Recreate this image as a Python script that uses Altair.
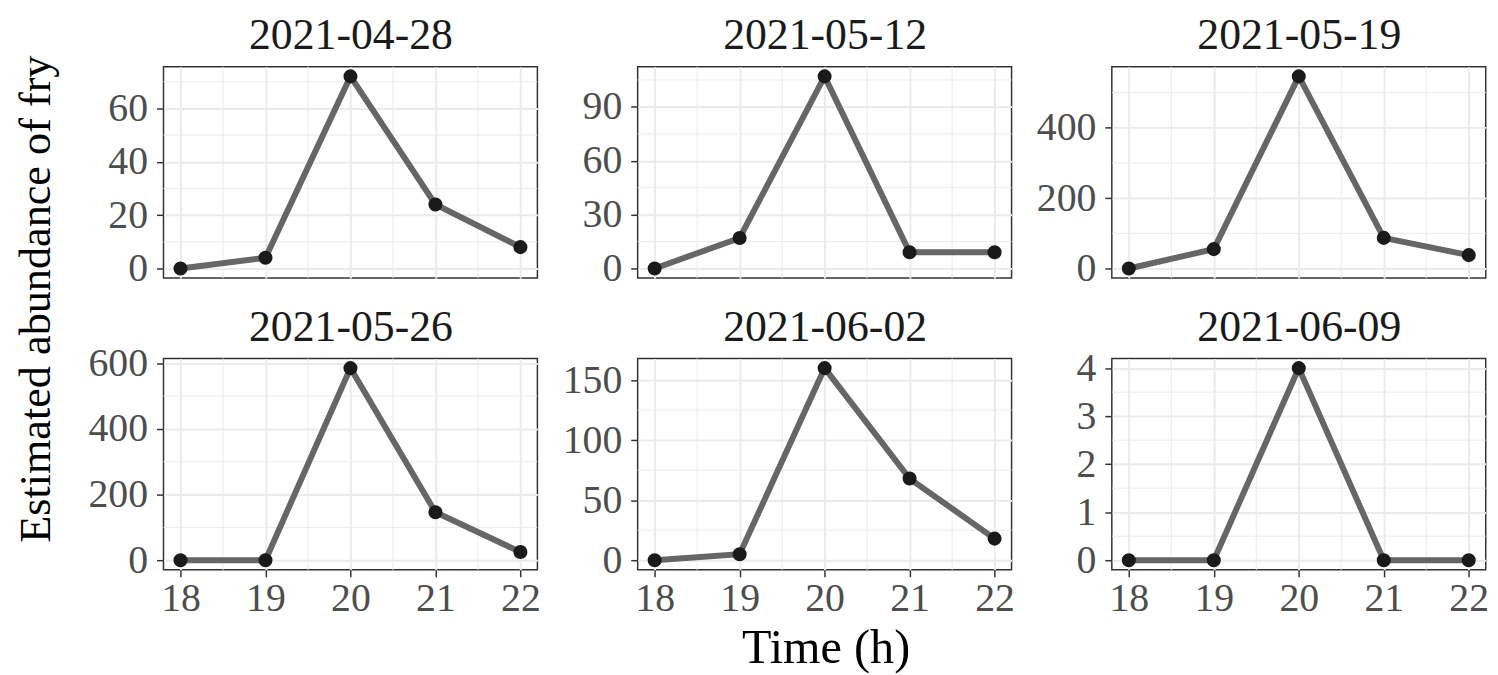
import altair as alt
import pandas as pd

# ---- data ----
dates = ["2021-04-28", "2021-05-12", "2021-05-19", "2021-05-26", "2021-06-02", "2021-06-09"]
hours = [18, 19, 20, 21, 22]
abund_0428 = [0, 4, 72, 24, 8]
abund_0512 = [0, 17, 107, 9, 9]
abund_0519 = [0, 55, 546, 87, 38]
abund_0526 = [0, 0, 585, 146, 25]
abund_0602 = [0, 5, 160, 68, 18]
abund_0609 = [0, 0, 4, 0, 0]
series = [abund_0428, abund_0512, abund_0519, abund_0526, abund_0602, abund_0609]

y_major = [[0, 20, 40, 60], [0, 30, 60, 90], [0, 200, 400],
           [0, 200, 400, 600], [0, 50, 100, 150], [0, 1, 2, 3, 4]]
y_minor = [[10, 30, 50, 70], [15, 45, 75, 105], [100, 300, 500],
           [100, 300, 500], [25, 75, 125], [0.5, 1.5, 2.5, 3.5]]
x_major = hours
x_minor = [18.5, 19.5, 20.5, 21.5]

FONT = "Liberation Serif"
GRID = "#EBEBEB"
W, H = 376.3, 212.7


def panel(date, vals, major, minor, show_x):
    df = pd.DataFrame({"hour": hours, "n": vals})
    lo, hi = min(vals), max(vals)
    pad = 0.05 * (hi - lo)
    xscale = alt.Scale(domain=[17.8, 22.2], nice=False, zero=False)
    yscale = alt.Scale(domain=[lo - pad, hi + pad], nice=False, zero=False)
    xaxis = alt.Axis(values=x_major, title=None, grid=True, gridColor=GRID, gridWidth=2,
                     labels=show_x, ticks=show_x, domain=False, labelFlush=False,
                     format="d", orient="bottom")
    strip = alt.Axis(orient="top", title=date, grid=False, labels=False, ticks=False,
                     domain=False, titleFont=FONT, titleFontSize=44,
                     titleFontWeight="normal", titleColor="#1A1A1A", titlePadding=9)
    yaxis = alt.Axis(values=major, title=None, grid=True, gridColor=GRID, gridWidth=2,
                     domain=False, labelFlush=False, format="d")

    vminor = alt.Chart(pd.DataFrame({"hour": x_minor})).mark_rule(
        color=GRID, strokeWidth=1).encode(
        x=alt.X("hour:Q", scale=xscale, axis=strip))
    hminor = alt.Chart(pd.DataFrame({"n": minor})).mark_rule(
        color=GRID, strokeWidth=1).encode(
        y=alt.Y("n:Q", scale=yscale, axis=yaxis))
    line = alt.Chart(df).mark_line(color="#666666", strokeWidth=6).encode(
        x=alt.X("hour:Q", scale=xscale, axis=xaxis),
        y=alt.Y("n:Q", scale=yscale, axis=yaxis),
    )
    pts = alt.Chart(df).mark_circle(size=200, color="#1A1A1A", opacity=1).encode(
        x=alt.X("hour:Q", scale=xscale, axis=None),
        y=alt.Y("n:Q", scale=yscale, axis=yaxis),
    )
    return alt.layer(vminor, hminor, line, pts).resolve_scale(
        x="independent").resolve_axis(x="independent").properties(width=W, height=H)


panels = [panel(d, s, ma, mi, i >= 3)
          for i, (d, s, ma, mi) in enumerate(zip(dates, series, y_major, y_minor))]

inner = alt.concat(
    *panels, columns=3, spacing={"row": 80.6, "column": 100.2}, bounds="flush",
    title=alt.Title("Time (h)", orient="bottom", fontSize=48.5, font=FONT, color="black",
                    fontWeight="normal", anchor="middle", offset=6, dx=38),
)

chart = alt.hconcat(
    inner,
    title=alt.Title("Estimated abundance of fry", orient="left", fontSize=44.5, font=FONT,
                    color="black", fontWeight="normal", anchor="middle", offset=28,
                    dx=44),
).configure_view(
    stroke="#333333", strokeWidth=1.5
).configure_axis(
    labelFont=FONT, labelFontSize=40, labelColor="#4D4D4D",
    tickColor="#333333", tickWidth=1.5, tickSize=7, labelPadding=3,
).configure_axisY(
    labelPadding=9
).configure_axisX(
    labelPadding=2
).properties(
    background="white", padding={"left": 5.5, "top": 3, "right": 0, "bottom": 0}
)

chart.save("out.html", embed_options={"renderer": "svg", "actions": False})
